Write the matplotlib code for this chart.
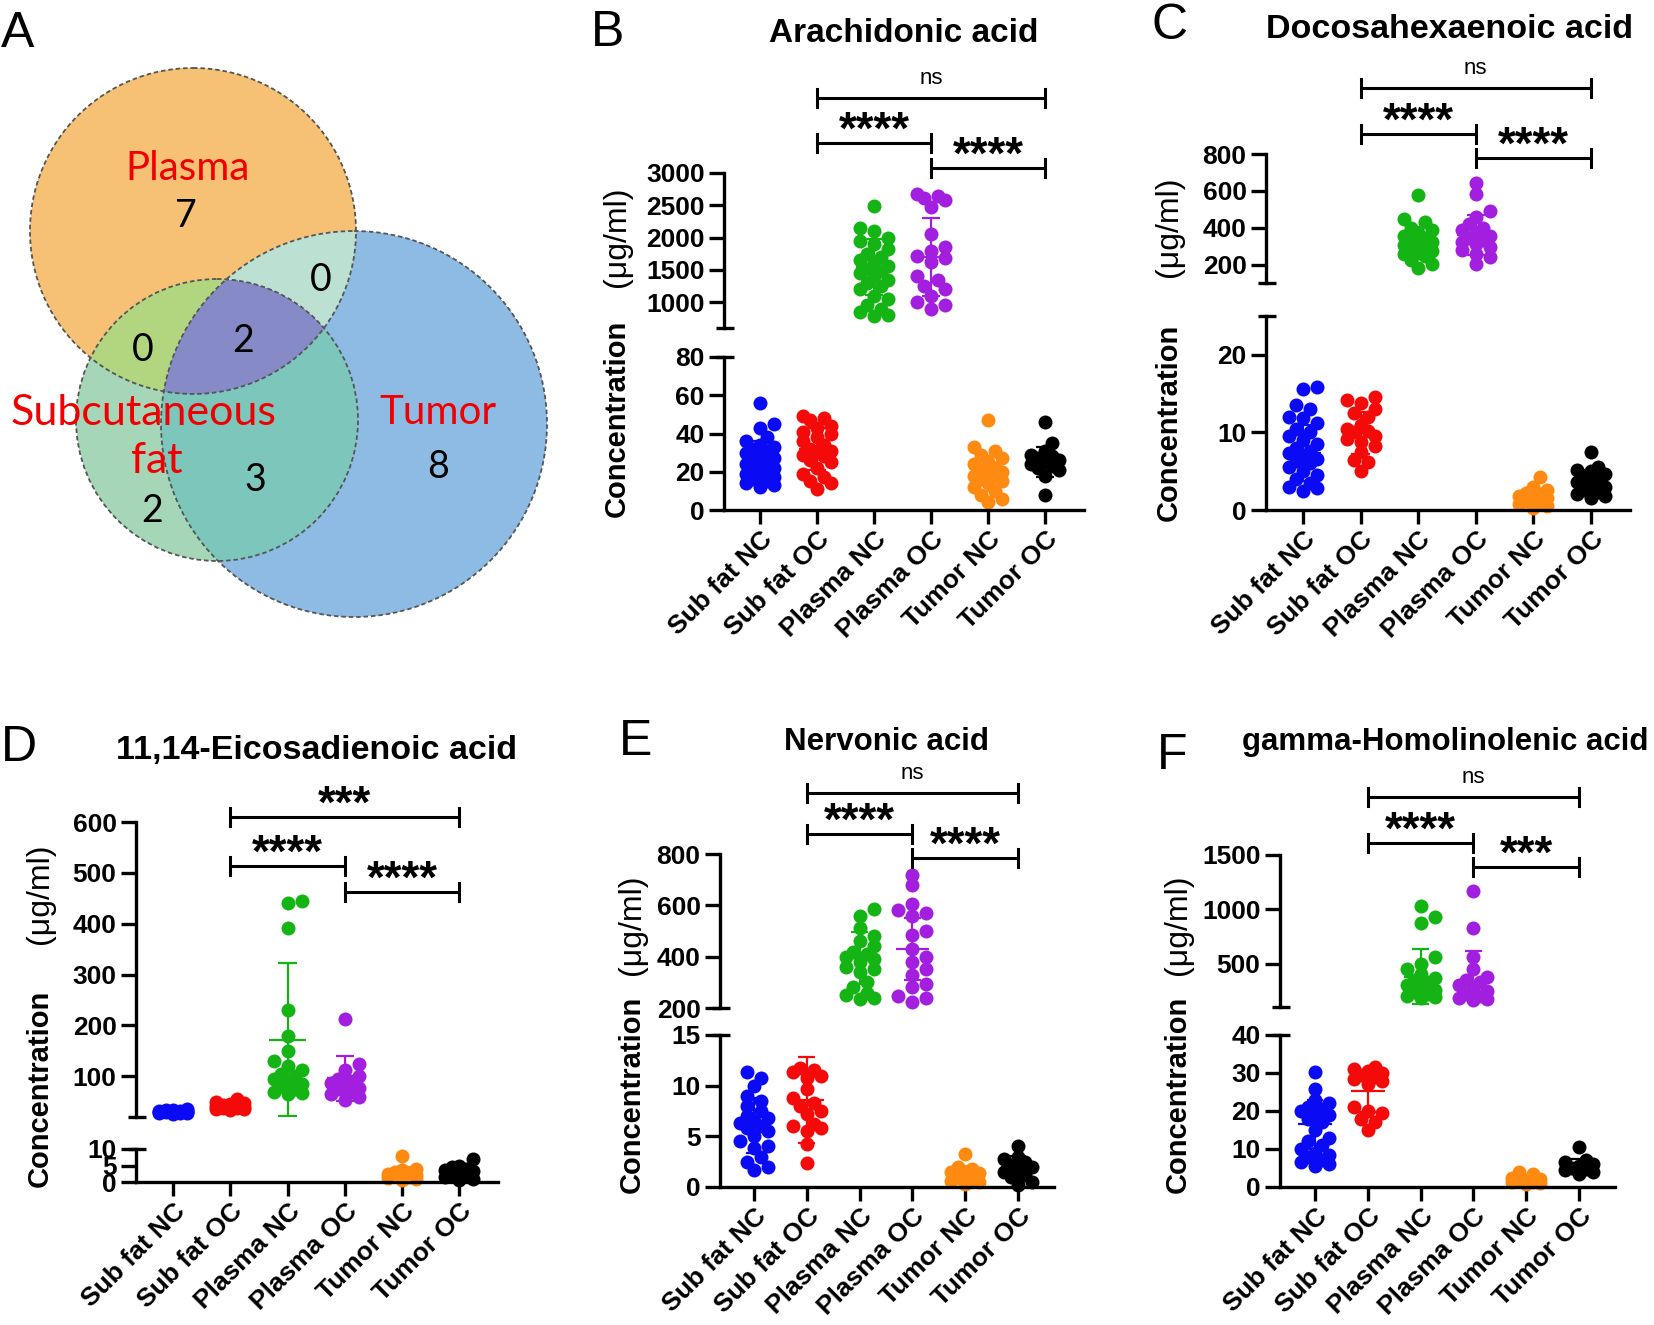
import numpy as np
import matplotlib
matplotlib.use("Agg")
import matplotlib.pyplot as plt
from matplotlib.lines import Line2D
from matplotlib.patches import Circle
from matplotlib.transforms import blended_transform_factory

plt.rcParams['font.family'] = ['Liberation Sans', 'DejaVu Sans']

W, H = 1654, 1325
DPI = 100

# ---------------- data ----------------
GROUPS = ["Sub fat NC", "Sub fat OC", "Plasma NC", "Plasma OC", "Tumor NC", "Tumor OC"]
GROUP_COLORS = ["#0A0AF5", "#F50A0A", "#14B414", "#A21FE0", "#FF8A12", "#000000"]

VENN_REGIONS = ["Plasma only", "Plasma+Tumor", "Plasma+Subcutaneous fat", "All three",
                "Subcutaneous fat only", "Subcutaneous fat+Tumor", "Tumor only"]
VENN_COUNTS = [7, 0, 0, 2, 2, 3, 8]

# B: Arachidonic acid
aa_sub_nc = [56, 45, 43, 38, 36, 34, 33, 32, 31, 30, 28, 27, 26, 25, 24, 23, 22, 21, 20, 19, 18, 17, 16, 15, 14, 13, 12]
aa_sub_oc = [49, 48, 47, 44, 43, 41, 40, 38, 36, 34, 32, 31, 30, 29, 28, 26, 25, 22, 19, 17, 15, 14, 11]
aa_pl_nc = [2490, 2150, 2100, 2000, 1950, 1900, 1820, 1750, 1700, 1650, 1600, 1560, 1520, 1480, 1450,
            1400, 1350, 1300, 1250, 1200, 1100, 1050, 950, 900, 850, 800, 780]
aa_pl_oc = [2680, 2650, 2620, 2580, 2480, 2050, 1850, 1800, 1720, 1680, 1620, 1400, 1350, 1250, 1200,
            1100, 1000, 950, 900]
aa_tu_nc = [47, 33, 31, 29, 27, 25, 24, 22, 21, 20, 19, 18, 17, 16, 15, 14, 12, 10, 8, 6, 4]
aa_tu_oc = [46, 35, 31, 29, 28, 27, 26, 25, 24, 23, 22, 21, 18, 8]
aa_mean = [26, 32, 1545, 1700, 19, 25]
aa_sd = [10, 11, 430, 600, 9, 8]
aa_sig = ["ns", "****", "****"]

# C: Docosahexaenoic acid
dha_sub_nc = [15.8, 15.6, 13.5, 13, 12, 11.8, 11.2, 10.5, 10, 9.5, 9, 8.5, 8, 7.6, 7.3, 7, 6.6, 6.3, 6,
              5.5, 5, 4.5, 4, 3.5, 3, 2.8, 2.5]
dha_sub_oc = [14.5, 14.2, 13.8, 13, 12.5, 12, 11, 10.5, 10.2, 10, 9.6, 9.2, 8.8, 8.3, 7.5, 6.5, 6.2, 5]
dha_pl_nc = [580, 450, 430, 400, 385, 370, 355, 345, 335, 325, 315, 305, 295, 285, 275, 265, 255, 245, 225, 205, 180]
dha_pl_oc = [640, 585, 490, 460, 420, 400, 385, 370, 355, 345, 335, 325, 310, 295, 280, 260, 240, 205]
dha_tu_nc = [4.2, 3.0, 2.6, 2.2, 2.0, 1.8, 1.6, 1.4, 1.2, 1.0, 0.8, 0.5, 0.3]
dha_tu_oc = [7.5, 5.6, 5.2, 5.0, 4.6, 4.2, 3.9, 3.6, 3.2, 2.9, 2.6, 2.3, 2.0, 1.8, 1.5]
dha_mean = [7.3, 9.9, 325, 360, 1.5, 3.5]
dha_sd = [3.6, 2.7, 80, 110, 1.1, 1.6]
dha_sig = ["ns", "****", "****"]

# D: 11,14-Eicosadienoic acid
eda_sub_nc = [36, 34, 33, 32, 31, 31, 30, 30, 29, 29, 28, 28, 27, 30, 32, 26, 29, 31]
eda_sub_oc = [55, 50, 47, 45, 43, 42, 41, 40, 39, 38, 37, 36, 35, 33]
eda_pl_nc = [445, 440, 392, 230, 180, 150, 130, 120, 112, 105, 100, 95, 90, 85, 80, 75, 70, 68, 65]
eda_pl_oc = [212, 125, 112, 100, 95, 90, 86, 82, 78, 75, 70, 65, 60, 53]
eda_tu_nc = [7.9, 4.0, 3.5, 3.0, 2.8, 2.5, 2.2, 2.0, 1.8, 1.5, 1.2, 1.0, 0.5]
eda_tu_oc = [7.0, 5.0, 4.5, 4.0, 3.5, 3.2, 3.0, 2.5, 2.0, 1.5, 1.0, 0.5]
eda_mean = [30, 42, 172, 96, 2.5, 3.0]
eda_sd = [2.5, 6, 150, 44, 1.9, 1.8]
eda_sig = ["***", "****", "****"]

# E: Nervonic acid
nva_sub_nc = [11.3, 10.8, 10.0, 9.0, 8.5, 8.0, 7.5, 7.0, 6.8, 6.5, 6.3, 6.0, 5.8, 5.5, 5.0, 4.5, 4.0, 3.8,
              3.0, 2.5, 2.0, 1.7]
nva_sub_oc = [11.7, 11.5, 11.3, 11.0, 10.8, 9.7, 8.8, 8.3, 8.0, 7.5, 7.2, 6.2, 6.0, 5.8, 5.5, 4.2, 2.4]
nva_pl_nc = [585, 560, 510, 480, 460, 440, 420, 410, 400, 390, 380, 360, 350, 340, 300, 280, 260, 250, 240, 235]
nva_pl_oc = [720, 680, 605, 580, 570, 560, 500, 484, 430, 400, 380, 350, 330, 294, 280, 248, 240, 222]
nva_tu_nc = [3.3, 2.0, 1.8, 1.5, 1.2, 1.0, 0.8, 0.5, 0.3, 1.4, 0.6]
nva_tu_oc = [4.0, 3.0, 2.8, 2.5, 2.2, 2.0, 1.8, 1.5, 1.2, 1.0, 0.5, 0.2]
nva_mean = [6.1, 8.55, 395, 430, 1.2, 2.0]
nva_sd = [2.7, 4.25, 100, 122, 0.9, 1.1]
nva_sig = ["ns", "****", "****"]

# F: gamma-Homolinolenic acid
gla_sub_nc = [30.2, 25.8, 23, 22, 21, 20.5, 20, 19.5, 19, 18, 17, 15, 13, 12, 11, 10, 9, 8.5, 8, 7, 6.5, 6, 5.5]
gla_sub_oc = [31.5, 31, 30.5, 30, 29.5, 29, 28.5, 28, 27, 21, 20, 19.5, 18, 17, 15]
gla_pl_nc = [1030, 930, 870, 560, 500, 450, 400, 370, 350, 320, 300, 280, 260, 240, 220, 200, 190, 180]
gla_pl_oc = [1170, 825, 565, 450, 380, 350, 330, 300, 280, 250, 220, 200, 180, 170, 160]
gla_tu_nc = [4.0, 3.5, 2.5, 2.0, 1.8, 1.5, 1.2, 1.0, 0.8, 1.4]
gla_tu_oc = [10.5, 7.0, 6.5, 6.0, 5.5, 5.0, 4.5, 4.0, 3.5, 4.8]
gla_mean = [16.5, 25.3, 380, 337, 1.8, 5.5]
gla_sd = [6.4, 5.5, 250, 277, 1.0, 2.0]
gla_sig = ["ns", "****", "***"]

# comparisons (group index pairs) for the three brackets
SIG_PAIRS = [(1, 5), (1, 3), (3, 5)]

# ---------------- figure helpers ----------------
fig = plt.figure(figsize=(W / DPI, H / DPI), dpi=DPI)
LW = 2.4
DIAM = 14.0
MS = (DIAM * 72 / DPI) ** 2


def fx(x):
    return x / W


def fy(y):
    return 1 - y / H


def axes_px(l, r, t, b):
    return fig.add_axes([l / W, 1 - b / H, (r - l) / W, (b - t) / H])


def swarm(ypix, diam, maxoff):
    n = len(ypix)
    xs = np.zeros(n)
    step = diam * 0.5
    cands = [0.0]
    k = 1
    while k * step <= maxoff + 1e-9:
        cands += [k * step, -k * step]
        k += 1
    placed = []
    for i in np.argsort(ypix):
        best, bestd, bestc = None, -1, 0.0
        for c in cands:
            if placed:
                pa = np.array(placed)
                d = np.min(np.hypot(pa[:, 0] - c, pa[:, 1] - ypix[i]))
            else:
                d = 1e9
            if d >= 0.72 * diam:
                best = c
                break
            if d > bestd:
                bestd, bestc = d, c
        if best is None:
            best = bestc
        xs[i] = best
        placed.append((best, ypix[i]))
    return xs


def style_axis(ax):
    ax.patch.set_visible(False)
    for s in ("top", "right"):
        ax.spines[s].set_visible(False)
    ax.spines["left"].set_linewidth(LW)
    ax.spines["bottom"].set_linewidth(LW)
    ax.tick_params(axis="y", width=LW, length=11, pad=3)
    ax.tick_params(axis="x", width=LW, length=10, pad=2)


def hline_px(x0, x1, y, lw=LW):
    fig.add_artist(Line2D([fx(x0), fx(x1)], [fy(y), fy(y)], transform=fig.transFigure,
                          color="k", lw=lw, solid_capstyle="butt"))


def panel(values, means, sds, sig, upper_groups, L):
    spine, t0, dx = L["spine"], L["tick0"], L["dx"]
    xend = t0 + 5 * dx + 0.68 * dx
    xlim = (-(t0 - spine) / dx, (xend - t0) / dx)
    lo = axes_px(spine, xend, L["lo_top"], L["lo_bot"])
    up = axes_px(spine, xend, L["up_top"], L["up_bot"])
    for ax in (lo, up):
        style_axis(ax)
        ax.set_xlim(xlim)
    lo.set_ylim(L["lo_lim"])
    up.set_ylim(L["up_lim"])
    up.spines["bottom"].set_visible(False)
    up.set_xticks([])
    lo.set_yticks(L["lo_ticks"], labels=[str(t) for t in L["lo_ticks"]], fontsize=19, fontweight="bold")
    up.set_yticks(L["up_ticks"], labels=[str(t) for t in L["up_ticks"]], fontsize=19, fontweight="bold")
    lo.set_xticks(range(len(GROUPS)), labels=GROUPS, rotation=45, ha="right", va="top",
                  rotation_mode="anchor", fontsize=19, fontweight="bold")

    for i, vals in enumerate(values):
        ax = up if i in upper_groups else lo
        v = np.asarray(vals, float)
        ypix = ax.transData.transform(np.column_stack([np.zeros_like(v), v]))[:, 1]
        offs = swarm(ypix, DIAM, 14.0)
        col = GROUP_COLORS[i]
        ax.scatter(i + offs / dx, v, s=MS, color=col, lw=0, zorder=2, clip_on=False)
        m, sd = means[i], sds[i]
        kw = dict(color=col, lw=1.6, zorder=3, solid_capstyle="butt")
        ax.plot([i - 0.32, i + 0.32], [m, m], **kw)
        ax.plot([i, i], [m - sd, m + sd], **kw)
        ax.plot([i - 0.16, i + 0.16], [m + sd, m + sd], **kw)
        ax.plot([i - 0.16, i + 0.16], [m - sd, m - sd], **kw)

    # axis break marks
    hline_px(spine - 8, spine + 10, L["lo_top"])
    hline_px(spine - 8, spine + 10, L["up_bot"])

    # significance brackets
    tr = blended_transform_factory(lo.transData, fig.transFigure)
    for (g1, g2), ypx, lab in zip(SIG_PAIRS, L["sig_y"], sig):
        y = fy(ypx)
        h = 9 / H
        fig.add_artist(Line2D([g1, g2], [y, y], transform=tr, color="k", lw=2.2, solid_capstyle="butt"))
        for g in (g1, g2):
            fig.add_artist(Line2D([g, g], [y - h, y + h], transform=tr, color="k", lw=2.2))
        mid = (g1 + g2) / 2
        if lab == "ns":
            fig.text(mid, fy(ypx - 14), lab, transform=tr, ha="center", va="baseline", fontsize=16)
        else:
            fig.text(mid, fy(ypx + 1), lab, transform=tr, ha="center", va="baseline",
                     fontsize=33, fontweight="bold")

    # titles, letters, y labels
    fig.text(fx(L["title_xy"][0]), fy(L["title_xy"][1]), L["title"], ha="center", va="center",
             fontsize=L["title_fs"], fontweight="bold")
    fig.text(fx(L["letter_xy"][0]), fy(L["letter_xy"][1]), L["letter"], ha="center", va="center",
             fontsize=36)
    fig.text(fx(L["ylab_x"]), fy(L["conc_bot"]), "Concentration", rotation=90, ha="center",
             va="bottom", fontsize=21, fontweight="bold")
    fig.text(fx(L["ylab_x"]), fy(L["unit_c"]), "(μg/ml)", rotation=90, ha="center", va="center",
             fontsize=23)


# ---------------- panel A: Venn ----------------
axA = axes_px(0, 575, 0, 625)
axA.set_xlim(0, 575)
axA.set_ylim(625, 0)
axA.axis("off")
CIRC = {"P": (193, 231, 163), "S": (217, 420, 141), "T": (354, 424, 193)}
gx, gy = np.meshgrid(np.arange(575) + 0.5, np.arange(625) + 0.5)
inP = (gx - CIRC["P"][0]) ** 2 + (gy - CIRC["P"][1]) ** 2 <= CIRC["P"][2] ** 2
inS = (gx - CIRC["S"][0]) ** 2 + (gy - CIRC["S"][1]) ** 2 <= CIRC["S"][2] ** 2
inT = (gx - CIRC["T"][0]) ** 2 + (gy - CIRC["T"][1]) ** 2 <= CIRC["T"][2] ** 2
img = np.ones((625, 575, 3))
region_cols = [
    (inP & ~inS & ~inT, "#F7C175"),
    (inT & ~inP & ~inS, "#8DBBE4"),
    (inS & ~inP & ~inT, "#A5D6B8"),
    (inP & inS & ~inT, "#B2D680"),
    (inP & inT & ~inS, "#BCE0D2"),
    (inS & inT & ~inP, "#7CC6BC"),
    (inP & inS & inT, "#868AC6"),
]
for mask, c in region_cols:
    img[mask] = matplotlib.colors.to_rgb(c)
axA.imshow(img, extent=(0, 575, 625, 0), interpolation="nearest", zorder=0)
for cx, cy, r in CIRC.values():
    axA.add_patch(Circle((cx, cy), r, fill=False, ec="#555555", lw=1.3, ls=(0, (2.5, 1.6)), zorder=2))

venn_font = ["Lato", "DejaVu Sans"]
label_pos = [(186, 216), (321, 280), (143, 350), (243, 341), (152, 511), (255, 480), (438, 467)]
for (x, y), n in zip(label_pos, VENN_COUNTS):
    axA.text(x, y, str(n), ha="center", va="center", fontsize=27, family=venn_font, zorder=3)
axA.text(188, 168, "Plasma", color="#F00000", ha="center", va="center", fontsize=29, family=venn_font, zorder=3)
axA.text(144, 413, "Subcutaneous", color="#F00000", ha="center", va="center", fontsize=31, family=venn_font, zorder=3)
axA.text(157, 461, "fat", color="#F00000", ha="center", va="center", fontsize=31, family=venn_font, zorder=3)
axA.text(438, 413, "Tumor", color="#F00000", ha="center", va="center", fontsize=29, family=venn_font, zorder=3)
fig.text(fx(18), fy(34), "A", ha="center", va="center", fontsize=36)

# ---------------- panels B-F ----------------
LB = dict(spine=724, tick0=760, dx=57.0, lo_top=357, lo_bot=510, lo_lim=(0, 80), lo_ticks=[0, 20, 40, 60, 80],
          up_top=173, up_bot=328, up_lim=(600, 3000), up_ticks=[1000, 1500, 2000, 2500, 3000],
          sig_y=[98, 143, 168], title="Arachidonic acid", title_fs=24, title_xy=(904, 33), letter="B",
          letter_xy=(608, 33), ylab_x=617, conc_bot=517, unit_c=237)
LC = dict(spine=1266, tick0=1303, dx=57.6, lo_top=316, lo_bot=510, lo_lim=(0, 25), lo_ticks=[0, 10, 20],
          up_top=154, up_bot=283, up_lim=(100, 800), up_ticks=[200, 400, 600, 800],
          sig_y=[88, 134, 158], title="Docosahexaenoic acid", title_fs=24.5, title_xy=(1450, 29), letter="C",
          letter_xy=(1170, 26), ylab_x=1169, conc_bot=521, unit_c=227)
LD = dict(spine=136, tick0=173, dx=57.3, lo_top=1149, lo_bot=1182, lo_lim=(0, 10), lo_ticks=[0, 5, 10],
          up_top=822, up_bot=1117, up_lim=(20, 600), up_ticks=[100, 200, 300, 400, 500, 600],
          sig_y=[817, 866, 892], title="11,14-Eicosadienoic acid", title_fs=24.5, title_xy=(316, 750),
          letter="D", letter_xy=(19, 748), ylab_x=40, conc_bot=1187, unit_c=894)
LE = dict(spine=720, tick0=754, dx=52.8, lo_top=1035, lo_bot=1187, lo_lim=(0, 15), lo_ticks=[0, 5, 10, 15],
          up_top=854, up_bot=1008, up_lim=(200, 800), up_ticks=[200, 400, 600, 800],
          sig_y=[793, 834, 858], title="Nervonic acid", title_fs=22.5, title_xy=(887, 742), letter="E",
          letter_xy=(636, 742), ylab_x=632, conc_bot=1193, unit_c=925)
LF = dict(spine=1280, tick0=1315, dx=52.8, lo_top=1035, lo_bot=1187, lo_lim=(0, 40), lo_ticks=[0, 10, 20, 30, 40],
          up_top=855, up_bot=1007, up_lim=(100, 1500), up_ticks=[500, 1000, 1500],
          sig_y=[797, 843, 867], title="gamma-Homolinolenic acid", title_fs=22.5, title_xy=(1445, 742),
          letter="F", letter_xy=(1172, 756), ylab_x=1178, conc_bot=1193, unit_c=925)

panel([aa_sub_nc, aa_sub_oc, aa_pl_nc, aa_pl_oc, aa_tu_nc, aa_tu_oc], aa_mean, aa_sd, aa_sig, [2, 3], LB)
panel([dha_sub_nc, dha_sub_oc, dha_pl_nc, dha_pl_oc, dha_tu_nc, dha_tu_oc], dha_mean, dha_sd, dha_sig, [2, 3], LC)
panel([eda_sub_nc, eda_sub_oc, eda_pl_nc, eda_pl_oc, eda_tu_nc, eda_tu_oc], eda_mean, eda_sd, eda_sig, [0, 1, 2, 3], LD)
panel([nva_sub_nc, nva_sub_oc, nva_pl_nc, nva_pl_oc, nva_tu_nc, nva_tu_oc], nva_mean, nva_sd, nva_sig, [2, 3], LE)
panel([gla_sub_nc, gla_sub_oc, gla_pl_nc, gla_pl_oc, gla_tu_nc, gla_tu_oc], gla_mean, gla_sd, gla_sig, [2, 3], LF)

fig.savefig("out.png", dpi=DPI)
